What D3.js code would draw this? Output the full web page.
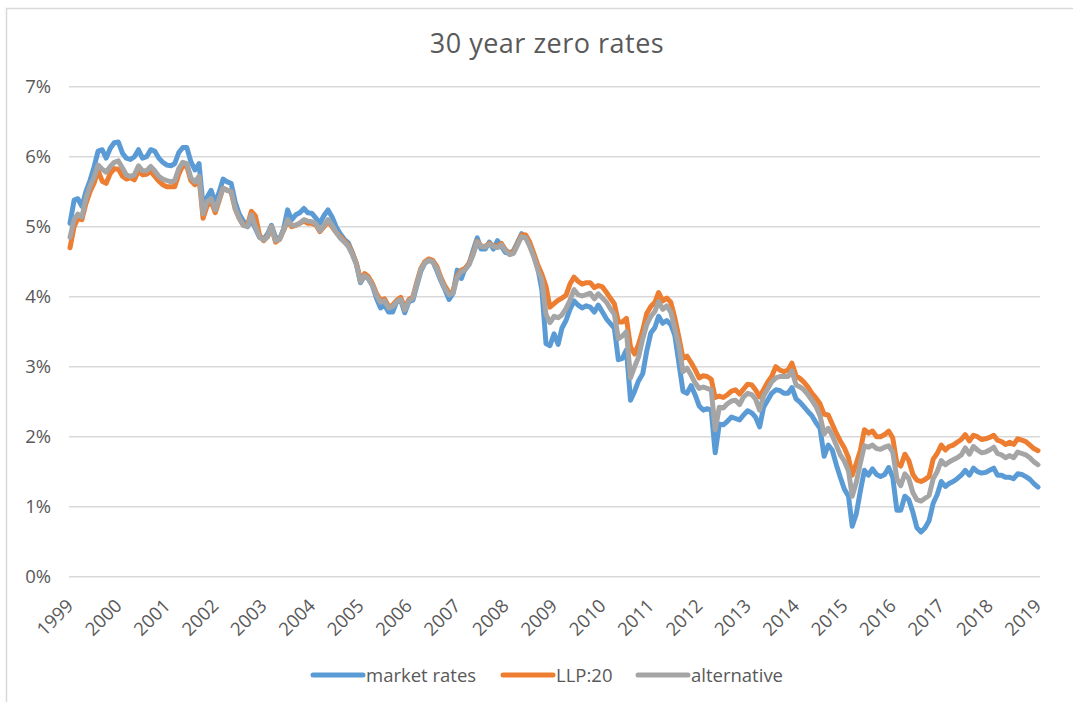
<!DOCTYPE html>
<html><head><meta charset="utf-8">
<script src="https://cdn.jsdelivr.net/npm/d3@7"></script>
<style>body{margin:0;background:#fff}svg{display:block}</style>
</head><body>
<svg id="chart" width="1073" height="702"></svg>
<script>
const title = "30 year zero rates";
const startMonth = "1999-01";
const seriesNames = ["market rates", "LLP:20", "alternative"];
const yearLabels = ["1999","2000","2001","2002","2003","2004","2005","2006","2007","2008","2009","2010","2011","2012","2013","2014","2015","2016","2017","2018","2019"];
const yTickValues = [0,1,2,3,4,5,6,7];

// monthly values, Jan 1999 .. Jan 2019 (percent)
const marketRates = [5.05,5.38,5.4,5.29,5.5,5.66,5.85,6.08,6.1,5.98,6.12,6.2,
6.21,6.05,5.98,5.96,6.0,6.1,5.98,6.0,6.1,6.08,5.98,5.92,
5.88,5.87,5.9,6.06,6.13,6.13,5.93,5.81,5.9,5.3,5.42,5.52,
5.34,5.5,5.68,5.64,5.62,5.35,5.18,5.08,5.0,5.1,4.97,4.85,
4.82,4.9,5.02,4.85,4.82,4.97,5.24,5.1,5.17,5.2,5.26,5.2,
5.19,5.12,5.05,5.16,5.24,5.14,5.0,4.9,4.82,4.77,4.63,4.47,
4.2,4.3,4.26,4.16,3.98,3.84,3.88,3.78,3.78,3.93,3.95,3.77,
3.93,3.95,4.15,4.36,4.48,4.52,4.5,4.37,4.22,4.1,3.96,4.05,
4.38,4.26,4.4,4.47,4.66,4.84,4.68,4.68,4.78,4.68,4.8,4.72,
4.63,4.62,4.66,4.78,4.9,4.86,4.74,4.6,4.4,4.1,3.33,3.3,
3.47,3.32,3.55,3.66,3.82,3.94,3.88,3.84,3.87,3.85,3.78,3.88,
3.78,3.68,3.62,3.55,3.1,3.12,3.24,2.52,2.65,2.8,2.9,3.22,
3.48,3.56,3.72,3.62,3.66,3.6,3.45,3.05,2.65,2.62,2.73,2.6,
2.44,2.38,2.4,2.38,1.77,2.18,2.17,2.22,2.28,2.26,2.24,2.31,
2.37,2.34,2.28,2.14,2.42,2.52,2.62,2.67,2.66,2.62,2.62,2.7,
2.54,2.49,2.43,2.36,2.3,2.2,2.12,1.72,1.88,1.81,1.6,1.42,
1.25,1.15,0.72,0.9,1.22,1.52,1.45,1.54,1.46,1.43,1.46,1.56,
1.42,0.95,0.95,1.15,1.1,0.92,0.7,0.64,0.7,0.8,1.05,1.17,
1.36,1.29,1.33,1.36,1.4,1.45,1.52,1.45,1.55,1.5,1.48,1.49,
1.52,1.55,1.45,1.45,1.42,1.42,1.4,1.47,1.46,1.43,1.39,1.33,
1.28];
const llp20 = [4.7,5.0,5.12,5.1,5.33,5.5,5.62,5.8,5.65,5.62,5.76,5.83,
5.82,5.72,5.68,5.7,5.67,5.8,5.74,5.75,5.79,5.72,5.65,5.6,
5.57,5.57,5.57,5.75,5.87,5.86,5.66,5.6,5.7,5.12,5.3,5.36,
5.2,5.38,5.55,5.52,5.5,5.25,5.12,5.02,5.02,5.22,5.15,4.88,
4.8,4.86,5.0,4.78,4.82,4.95,5.08,5.0,5.02,5.05,5.08,5.05,
5.05,5.02,4.93,5.0,5.08,5.0,4.92,4.86,4.8,4.74,4.62,4.48,
4.24,4.33,4.29,4.19,4.05,3.95,3.97,3.86,3.88,3.95,3.99,3.84,
3.96,4.0,4.2,4.4,4.5,4.54,4.52,4.43,4.27,4.15,4.06,4.08,
4.3,4.38,4.4,4.48,4.62,4.79,4.72,4.72,4.76,4.73,4.72,4.76,
4.67,4.62,4.64,4.76,4.88,4.88,4.78,4.62,4.45,4.32,4.15,3.85,
3.9,3.95,3.98,4.02,4.18,4.28,4.22,4.18,4.2,4.2,4.13,4.16,
4.14,4.06,3.98,3.9,3.64,3.64,3.69,3.28,3.18,3.32,3.52,3.76,
3.86,3.92,4.06,3.94,3.98,3.92,3.7,3.42,3.12,3.15,3.06,2.96,
2.84,2.87,2.86,2.82,2.56,2.58,2.56,2.6,2.65,2.67,2.61,2.68,
2.75,2.74,2.67,2.57,2.67,2.78,2.86,3.0,2.95,2.93,2.95,3.05,
2.87,2.83,2.78,2.71,2.62,2.55,2.47,2.32,2.31,2.18,2.05,1.94,
1.84,1.7,1.45,1.62,1.8,2.1,2.05,2.08,2.0,2.0,2.03,2.08,
1.98,1.62,1.58,1.75,1.66,1.46,1.38,1.36,1.39,1.43,1.68,1.76,
1.88,1.81,1.86,1.88,1.92,1.96,2.03,1.94,2.02,2.0,1.96,1.97,
1.99,2.02,1.95,1.93,1.89,1.92,1.89,1.97,1.95,1.93,1.88,1.83,
1.8];
const alternative = [4.85,5.1,5.18,5.14,5.4,5.58,5.7,5.88,5.82,5.78,5.86,5.92,
5.94,5.84,5.74,5.72,5.74,5.87,5.8,5.8,5.86,5.8,5.72,5.68,
5.66,5.64,5.66,5.83,5.92,5.9,5.7,5.64,5.72,5.18,5.36,5.4,
5.24,5.4,5.55,5.52,5.5,5.26,5.12,5.02,5.0,5.17,5.0,4.85,
4.81,4.86,5.0,4.8,4.82,4.95,5.1,5.02,5.02,5.05,5.1,5.08,
5.07,5.04,4.94,5.02,5.1,5.02,4.92,4.84,4.78,4.72,4.6,4.46,
4.21,4.3,4.26,4.16,4.02,3.92,3.94,3.84,3.86,3.93,3.96,3.81,
3.94,3.98,4.18,4.38,4.48,4.52,4.5,4.4,4.24,4.12,4.03,4.05,
4.28,4.36,4.38,4.46,4.6,4.78,4.72,4.71,4.75,4.72,4.7,4.74,
4.66,4.6,4.62,4.74,4.86,4.84,4.72,4.57,4.38,4.24,3.75,3.63,
3.72,3.7,3.74,3.83,3.95,4.1,4.03,4.01,4.03,4.05,3.97,4.04,
3.98,3.92,3.83,3.75,3.4,3.44,3.5,2.84,3.0,3.14,3.4,3.6,
3.72,3.79,3.93,3.82,3.87,3.78,3.55,3.3,2.93,2.98,2.88,2.77,
2.69,2.71,2.69,2.67,2.1,2.42,2.41,2.47,2.51,2.52,2.46,2.57,
2.62,2.6,2.54,2.38,2.58,2.68,2.78,2.84,2.86,2.86,2.86,2.94,
2.74,2.71,2.67,2.6,2.52,2.43,2.3,2.04,2.12,2.02,1.88,1.74,
1.65,1.51,1.15,1.35,1.62,1.87,1.85,1.88,1.83,1.82,1.85,1.87,
1.78,1.4,1.3,1.47,1.4,1.2,1.1,1.08,1.12,1.16,1.4,1.5,
1.66,1.6,1.64,1.67,1.7,1.74,1.84,1.75,1.86,1.81,1.77,1.78,
1.81,1.85,1.76,1.74,1.7,1.73,1.7,1.78,1.76,1.74,1.7,1.64,
1.6];

const colors = ["#5B9BD5", "#ED7D31", "#A5A5A5"];
const font = "'Open Sans', 'Liberation Sans', sans-serif";
const textColor = "#595959";

const svg = d3.select("#chart");
svg.append("rect").attr("x", 6.5).attr("y", 8.5).attr("width", 1100).attr("height", 720)
  .attr("fill", "#fff").attr("stroke", "#D9D9D9").attr("stroke-width", 1.5);

const parse = d3.utcParse("%Y-%m");
const t0 = parse(startMonth);
const months = marketRates.map((_, i) => d3.utcMonth.offset(t0, i));

const x = d3.scaleUtc().domain([parse("1999-01"), parse("2019-01")]).range([70, 1038]);
const y = d3.scaleLinear().domain([0, 7]).range([576.7, 86.7]);

// gridlines
svg.append("g").selectAll("line").data(yTickValues).join("line")
  .attr("x1", 69).attr("x2", 1040)
  .attr("y1", d => y(d)).attr("y2", d => y(d))
  .attr("stroke", "#D9D9D9").attr("stroke-width", 1.5);

// y axis labels
const yAxis = d3.axisLeft(y).tickValues(yTickValues).tickFormat(d => d + "%").tickSize(0).tickPadding(0);
const gy = svg.append("g").attr("transform", "translate(51,0)").call(yAxis);
gy.select(".domain").remove();
gy.selectAll("text").attr("font-family", font).attr("font-size", 18.5).attr("fill", textColor);

// x axis labels
const xAxis = d3.axisBottom(x).tickValues(yearLabels.map(s => parse(s + "-01"))).tickFormat((d, i) => yearLabels[i]).tickSize(0);
const gx = svg.append("g").attr("transform", "translate(0,584)").call(xAxis);
gx.select(".domain").remove();
gx.selectAll("text").attr("font-family", font).attr("font-size", 18.5).attr("fill", textColor)
  .attr("text-anchor", "end").attr("dy", null).attr("y", 0)
  .attr("transform", "translate(4,23) rotate(-45)");

// lines
const seriesData = [marketRates, llp20, alternative];
const line = d3.line().x((d, i) => x(months[i])).y(d => y(d));
svg.append("g").selectAll("path").data(seriesData).join("path")
  .attr("d", d => line(d)).attr("fill", "none")
  .attr("stroke", (d, i) => colors[i]).attr("stroke-width", 5)
  .attr("stroke-linejoin", "round").attr("stroke-linecap", "round");

// title
svg.append("text").attr("x", 547).attr("y", 53).attr("text-anchor", "middle")
  .attr("font-family", font).attr("font-size", 27).attr("letter-spacing", 0.5)
  .attr("fill", textColor).text(title);

// legend
const legendX = [313, 503, 638];
const lg = svg.append("g");
seriesNames.forEach((name, i) => {
  lg.append("line").attr("x1", legendX[i]).attr("x2", legendX[i] + 50)
    .attr("y1", 675).attr("y2", 675).attr("stroke", colors[i]).attr("stroke-width", 5)
    .attr("stroke-linecap", "round");
  lg.append("text").attr("x", legendX[i] + 53).attr("y", 682)
    .attr("font-family", font).attr("font-size", 18.5).attr("fill", textColor).text(name);
});
</script>
</body></html>
